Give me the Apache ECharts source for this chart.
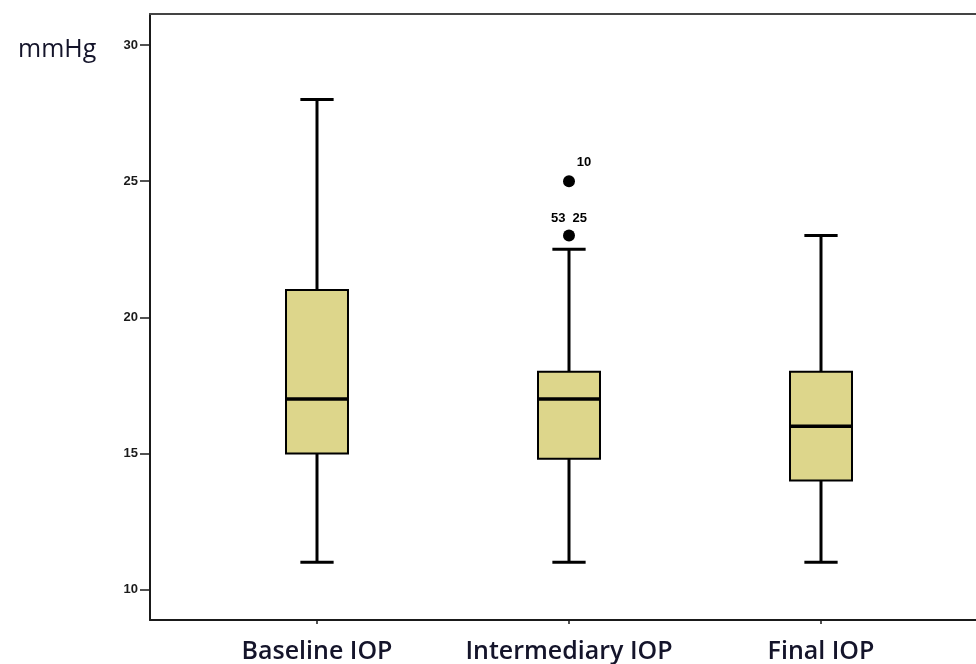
<!DOCTYPE html>
<html>
<head>
<meta charset="utf-8">
<script src="https://cdn.jsdelivr.net/npm/echarts@6/dist/echarts.min.js"></script>
<style>
  html, body { margin: 0; padding: 0; background: #fff; }
  #chart { width: 976px; height: 664px; }
</style>
</head>
<body>
<div id="chart"></div>
<script>
// IOP groups and their box statistics (mmHg)
var categories = ['Baseline IOP', 'Intermediary IOP', 'Final IOP'];
var whiskerLow = [11, 11, 11];
var quartile1 = [15, 14.8, 14];
var medians = [17, 17, 16];
var quartile3 = [21, 18, 18];
var whiskerHigh = [28, 22.5, 23];

// outliers: [category index, value, case labels]
var outlierCat = [1, 1];
var outlierVal = [25, 23];
var outlierCases = ['10', '53  25'];

var yTicks = [10, 15, 20, 25, 30];
var yMin = 8.88, yMax = 31.14;

var boxData = categories.map(function (c, i) {
  return [i, whiskerLow[i], quartile1[i], medians[i], quartile3[i], whiskerHigh[i]];
});
var outlierData = outlierCat.map(function (c, i) {
  return { value: [c, outlierVal[i]], name: outlierCases[i] };
});

function renderBox(params, api) {
  var i = api.value(0);
  var band = api.size([1, 0])[0];
  var bw = band * 0.246, cw = band * 0.132;
  var pLow = api.coord([i, api.value(1)]);
  var pQ1 = api.coord([i, api.value(2)]);
  var pMed = api.coord([i, api.value(3)]);
  var pQ3 = api.coord([i, api.value(4)]);
  var pHigh = api.coord([i, api.value(5)]);
  var x = pMed[0];
  var line = { stroke: '#000', lineWidth: 3 };
  return {
    type: 'group',
    children: [
      { type: 'line', shape: { x1: x, y1: pHigh[1], x2: x, y2: pQ3[1] }, style: line },
      { type: 'line', shape: { x1: x, y1: pQ1[1], x2: x, y2: pLow[1] }, style: line },
      { type: 'line', shape: { x1: x - cw / 2, y1: pHigh[1], x2: x + cw / 2, y2: pHigh[1] }, style: line },
      { type: 'line', shape: { x1: x - cw / 2, y1: pLow[1], x2: x + cw / 2, y2: pLow[1] }, style: line },
      { type: 'rect', shape: { x: x - bw / 2, y: pQ3[1], width: bw, height: pQ1[1] - pQ3[1] },
        style: { fill: '#ddd68b', stroke: '#000', lineWidth: 2 } },
      { type: 'line', shape: { x1: x - bw / 2, y1: pMed[1], x2: x + bw / 2, y2: pMed[1] },
        style: { stroke: '#000', lineWidth: 3.5 } }
    ]
  };
}

var chart = echarts.init(document.getElementById('chart'));
chart.setOption({
  animation: false,
  backgroundColor: '#fff',
  title: {
    text: 'mmHg', left: 13, top: 32,
    textStyle: { fontFamily: 'Open Sans', fontSize: 25, fontWeight: 'normal', color: '#14142a' }
  },
  grid: [
    { left: 150, right: 0, top: 14, bottom: 44 },
    { left: 191, right: 29, top: 14, bottom: 44 }
  ],
  xAxis: [
    { type: 'value', gridIndex: 0, min: 0, max: 1, position: 'bottom',
      axisLine: { lineStyle: { color: '#1a1a1a', width: 2 } },
      axisTick: { show: false }, axisLabel: { show: false }, splitLine: { show: false } },
    { type: 'value', gridIndex: 0, min: 0, max: 1, position: 'top',
      axisLine: { lineStyle: { color: '#444', width: 2 } },
      axisTick: { show: false }, axisLabel: { show: false }, splitLine: { show: false } },
    { type: 'category', gridIndex: 1, data: categories,
      axisLine: { show: false },
      axisTick: { show: true, alignWithLabel: true, length: 4, lineStyle: { color: '#1a1a1a', width: 1.5 } },
      axisLabel: { interval: 0, fontFamily: 'Open Sans', fontSize: 25, fontWeight: 600, color: '#14142a', margin: 19 } }
  ],
  yAxis: [
    { type: 'value', gridIndex: 0, min: yMin, max: yMax,
      axisLine: { show: true, lineStyle: { color: '#1a1a1a', width: 2 } },
      axisTick: { show: true, customValues: yTicks, length: 10, lineStyle: { color: '#1a1a1a', width: 1.5 } },
      axisLabel: { customValues: yTicks, margin: 12, fontFamily: 'Arial', fontSize: 13, fontWeight: 'bold', color: '#1a1a1a' },
      splitLine: { show: false } },
    { type: 'value', gridIndex: 1, min: yMin, max: yMax, show: false, splitLine: { show: false } }
  ],
  series: [
    {
      type: 'custom', xAxisIndex: 2, yAxisIndex: 1,
      renderItem: renderBox,
      encode: { x: 0, y: [1, 2, 3, 4, 5] },
      data: boxData
    },
    {
      type: 'scatter', xAxisIndex: 2, yAxisIndex: 1,
      symbolSize: 12, itemStyle: { color: '#000', opacity: 1 },
      data: outlierData,
      label: {
        show: true, formatter: '{b}', fontFamily: 'Arial', fontSize: 13, fontWeight: 'bold', color: '#000',
        position: 'top', distance: 5
      },
      labelLayout: function (p) {
        if (p.text === '10') return { dx: 15, dy: -1 };
        return {};
      }
    }
  ]
});
</script>
</body>
</html>
